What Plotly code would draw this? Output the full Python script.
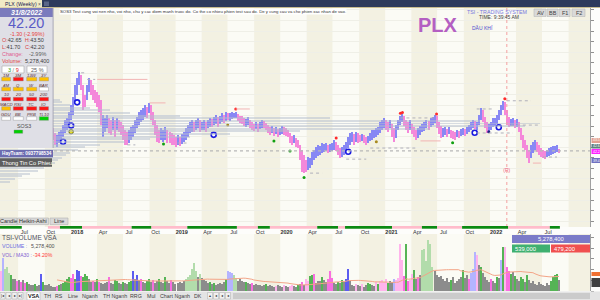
import numpy as np
import pandas as pd
import plotly.graph_objects as go

W, H = 600, 300
FONT = "Arial"


def X(p):
    return p / W


def Y(p):
    return 1 - p / H


# ---------------- data ----------------
price_start = "2017-10-30"
bar_high = [
    51.3, 49.4, 48.6, 49.8, 50.5, 52.4, 54.3, 55.1, 57.4, 60.0,
    63.0, 67.6, 70.2, 72.5, 71.4, 67.6, 63.8, 67.6, 70.2, 69.5,
    67.6, 65.7, 64.9, 63.8, 61.9, 56.2, 55.1, 56.2, 55.1, 54.3,
    55.5, 54.3, 55.1, 54.3, 53.6, 52.4, 50.5, 49.8, 50.5, 51.7,
    52.4, 54.3, 55.5, 57.4, 58.1, 58.9, 60.0, 59.2, 60.8, 60.0,
    57.4, 54.3, 52.4, 50.5, 51.3, 50.5, 51.7, 50.5, 49.8, 49.4,
    48.6, 47.9, 48.6, 47.9, 49.0, 49.8, 51.3, 52.4, 53.6, 54.3,
    53.6, 54.3, 55.1, 54.3, 53.6, 54.3, 53.6, 54.3, 55.1, 54.7,
    55.5, 56.2, 55.5, 55.9, 57.0, 56.2, 57.4, 57.0, 57.0, 57.4,
    57.0, 57.4, 56.6, 55.9, 55.9, 55.1, 54.7, 55.5, 54.3, 53.6,
    52.8, 53.6, 52.8, 53.6, 54.3, 54.0, 53.2, 52.4, 51.7, 52.0,
    51.3, 51.7, 50.9, 51.3, 52.0, 51.7, 51.3, 50.5, 49.4, 48.3,
    48.6, 47.5, 46.7, 44.9, 43.0, 41.1, 39.2, 40.3, 39.9, 42.2,
    43.0, 44.1, 44.9, 44.5, 45.6, 45.2, 45.6, 44.9, 45.2, 45.6,
    46.7, 46.0, 44.9, 43.7, 44.1, 44.9, 46.0, 47.9, 49.4, 49.8,
    49.0, 49.8, 49.4, 48.6, 49.0, 48.6, 47.9, 48.3, 49.4, 50.5,
    50.5, 51.3, 51.7, 53.6, 54.3, 55.1, 54.3, 53.6, 54.3, 52.8,
    51.3, 52.4, 54.3, 55.9, 56.6, 55.9, 54.3, 53.6, 54.3, 52.8,
    51.7, 50.5, 51.3, 52.0, 52.8, 53.6, 54.3, 54.0, 55.1, 55.5,
    56.2, 55.9, 53.6, 52.0, 51.3, 51.7, 50.9, 51.7, 50.5, 50.2,
    49.8, 50.5, 50.2, 50.9, 51.3, 50.9, 51.7, 52.4, 53.6, 54.3,
    54.0, 53.6, 56.2, 58.9, 58.1, 55.5, 53.6, 52.8, 53.6, 55.1,
    55.1, 56.2, 58.1, 60.0, 61.5, 61.1, 58.1, 55.5, 54.7, 55.1,
    54.3, 54.7, 53.6, 51.3, 48.6, 46.7, 44.9, 43.0, 44.9, 46.0,
    46.7, 46.0, 44.9, 43.7, 43.0, 42.6, 43.0, 43.7, 44.1, 44.5,
    44.5, 44.9, 43.5,
]
bar_low = [
    46.7, 44.9, 44.1, 45.6, 46.0, 47.9, 49.4, 50.5, 51.7, 54.3,
    56.2, 60.8, 63.8, 67.6, 65.7, 58.1, 59.2, 61.9, 64.9, 63.8,
    61.9, 60.8, 59.2, 57.4, 52.4, 47.9, 49.8, 51.3, 49.4, 48.6,
    50.5, 47.9, 50.5, 49.8, 48.6, 46.7, 44.9, 44.9, 45.6, 46.7,
    47.9, 49.4, 51.3, 52.4, 53.6, 54.3, 55.5, 55.1, 57.0, 54.3,
    52.4, 48.6, 46.0, 45.6, 46.7, 46.0, 46.7, 45.6, 45.6, 44.9,
    44.9, 44.1, 44.9, 44.5, 45.2, 46.0, 46.7, 47.9, 49.4, 49.8,
    49.8, 50.5, 51.3, 49.8, 50.5, 50.5, 49.8, 51.3, 51.7, 51.7,
    52.4, 52.8, 51.7, 52.8, 53.6, 53.2, 53.9, 54.3, 53.9, 54.7,
    55.1, 55.1, 53.9, 53.2, 52.8, 52.0, 51.7, 52.4, 51.3, 50.5,
    50.2, 50.9, 49.8, 50.9, 51.3, 51.3, 50.5, 49.4, 48.6, 49.4,
    48.3, 49.0, 47.9, 48.6, 49.0, 48.6, 48.3, 47.9, 45.6, 44.9,
    45.6, 44.1, 43.7, 39.2, 34.6, 34.2, 34.6, 35.4, 36.1, 37.3,
    39.2, 39.9, 40.7, 41.1, 41.8, 42.2, 42.6, 41.8, 42.2, 42.6,
    42.9, 42.6, 41.1, 39.9, 40.3, 41.1, 42.2, 43.7, 44.9, 46.0,
    44.9, 46.0, 45.6, 46.0, 46.3, 45.6, 44.9, 45.6, 46.3, 46.7,
    47.5, 47.9, 48.6, 49.4, 50.5, 51.3, 50.5, 49.8, 51.3, 47.9,
    46.0, 47.5, 50.5, 52.4, 53.6, 52.0, 50.5, 49.4, 50.5, 49.0,
    47.9, 46.7, 47.5, 48.6, 49.8, 50.2, 51.3, 50.5, 51.7, 52.4,
    53.2, 51.3, 49.0, 47.5, 47.9, 48.6, 47.9, 49.0, 47.5, 47.1,
    46.7, 47.9, 47.5, 48.3, 48.6, 48.3, 49.0, 49.8, 50.5, 51.3,
    50.9, 50.5, 52.4, 54.3, 53.6, 51.3, 49.4, 49.8, 50.5, 51.7,
    52.0, 52.8, 54.3, 56.2, 58.1, 56.2, 52.4, 51.7, 52.0, 52.0,
    51.3, 51.7, 49.8, 46.7, 43.7, 43.0, 39.9, 38.0, 39.9, 41.8,
    43.0, 42.2, 41.1, 40.3, 40.0, 39.5, 40.3, 40.7, 41.1, 41.4,
    41.8, 42.2, 41.7,
]
bar_dir = "".join([
    "dduuu", "uuuuu", "uuuud", "dduud", "ddddd", "uuudd", "ududd", "ddduu",
    "uuuuu", "uudud", "ddddu", "uuddd", "ddudu", "uuuuu", "duudu", "uduud",
    "uuduu", "duduu", "uuddd", "duudd", "duduu", "ddddu", "duduu", "ddddd",
    "udddd", "dduuu", "uuuuu", "uuduu", "udddu", "uuuuu", "duddu", "dduuu",
    "uuuuu", "uddud", "duuuu", "dddud", "dduuu", "uuduu", "udddu", "ududd",
    "duduu", "duuuu", "duuud", "dduuu", "uuuuu", "ddduu", "duddd", "ddduu",
    "udddd", "duuuu", "uud",
])
last_open = 42.65
last_close = 42.20

vol_start = "2017-04-24"
volume_m = [
    8.4, 9.3, 15.4, 10.3, 11.2, 8.4, 7.5, 5.6, 5.6, 4.7,
    5.1, 4.2, 5.1, 3.7, 4.2, 3.3, 2.8, 2.8, 3.3, 2.3,
    2.8, 7.9, 4.2, 2.8, 2.8, 3.3, 2.3, 1.9, 1.9, 2.3,
    2.8, 3.3, 3.7, 4.7, 5.6, 6.5, 6.1, 7.9, 5.6, 9.8,
    9.3, 7.0, 6.5, 7.9, 7.0, 5.6, 4.2, 4.7, 4.2, 5.6,
    4.2, 3.7, 3.3, 3.7, 4.2, 6.5, 3.7, 3.3, 5.1, 4.7,
    3.7, 3.3, 4.2, 3.7, 3.3, 4.2, 4.7, 9.3, 5.6, 7.5,
    5.1, 5.6, 4.2, 3.7, 4.7, 5.6, 4.2, 5.1, 3.7, 4.7,
    5.6, 4.2, 3.7, 6.5, 4.7, 3.7, 5.1, 4.2, 3.3, 3.7,
    4.2, 3.7, 4.7, 5.6, 6.5, 7.5, 10.3, 13.1, 9.3, 6.5,
    7.9, 6.1, 5.1, 4.7, 3.7, 4.2, 3.3, 3.7, 2.8, 3.3,
    3.7, 3.3, 4.2, 5.6, 9.3, 8.9, 8.4, 7.5, 6.1, 4.7,
    5.6, 4.7, 4.2, 4.2, 3.7, 3.3, 3.7, 2.8, 3.3, 2.8,
    2.8, 2.3, 2.8, 3.3, 2.3, 2.8, 2.3, 1.9, 2.3, 2.8,
    2.3, 1.9, 2.8, 2.3, 1.9, 2.3, 2.8, 2.3, 1.9, 2.8,
    3.3, 4.2, 2.8, 5.6, 4.7, 7.0, 7.5, 7.9, 3.7, 4.7,
    4.7, 6.5, 5.1, 4.2, 5.6, 9.3, 6.1, 3.7, 3.3, 4.2,
    3.7, 5.1, 4.2, 5.6, 10.3, 4.7, 2.8, 2.3, 3.3, 2.8,
    2.3, 3.3, 1.9, 2.8, 3.7, 3.3, 2.8, 2.3, 4.2, 3.3,
    4.7, 5.1, 4.2, 5.6, 3.7, 4.7, 4.2, 5.6, 5.1, 6.1,
    21.9, 14.5, 7.0, 21.9, 4.7, 5.1, 7.9, 9.8, 5.6, 6.5,
    7.5, 19.1, 19.6, 14.0, 23.8, 21.9, 11.2, 9.3, 7.5, 6.5,
    7.0, 5.6, 4.7, 6.1, 4.2, 5.1, 6.5, 3.7, 4.7, 5.6,
    6.5, 9.8, 6.1, 7.5, 5.6, 8.4, 10.3, 18.2, 16.8, 12.1,
    11.2, 8.4, 6.5, 5.1, 4.2, 5.6, 4.7, 3.7, 6.5, 6.1,
    14.5, 20.5, 20.5, 11.2, 9.3, 7.9, 8.9, 7.0, 5.6, 4.7,
    6.5, 5.6, 4.2, 7.5, 5.1, 3.7, 4.7, 3.3, 2.8, 4.2,
    3.3, 2.8, 2.3, 3.7, 2.8, 4.7, 6.5, 7.5, 7.9, 5.2784,
]
vol_kind = "".join([
    "pqvlllgkkp", "kpkpgkkkgk", "kbgkkkkkkp", "gkggggppgb", "bpgggkkpkg",
    "pkkkkpkkgg", "kkgkkggbkb", "kpkkggkpkk", "gkkgkkpkkk", "kkkllllllk",
    "lkkkkgkgkk", "kkkgvvvllk", "kkkgkkpkkk", "kkkgkkkkqk", "kkqkkqqkkg",
    "kpkqqggpkk", "kgkkpppkkg", "kgkbbkkkqk", "kqkkggkkqg", "qqqqgkkvqq",
    "qqpgpqqgkp", "kllllllkkk", "kkkkkgkkkk", "kgkkpvvvqk", "gkkkkpkkgk",
    "vgqppgkgkk", "ggkgkkkkkk", "kkkkkggggk",
])

# trend strip under the chart
trend_start = ["2017-04-27", "2017-10-12", "2017-11-23", "2018-02-08", "2018-07-31",
               "2018-10-08", "2019-02-10", "2019-08-02", "2019-10-14", "2019-11-25",
               "2020-05-08", "2020-07-20", "2020-08-13", "2021-01-24", "2021-05-08",
               "2021-06-30", "2021-09-25", "2022-03-05", "2022-07-28"]
trend_end = ["2017-07-13", "2017-11-23", "2018-02-08", "2018-07-31", "2018-10-08",
             "2019-02-10", "2019-08-02", "2019-10-14", "2019-11-25", "2020-05-08",
             "2020-07-20", "2020-08-13", "2021-01-24", "2021-05-08", "2021-06-30",
             "2021-09-25", "2022-03-05", "2022-07-28", "2022-09-01"]
trend_state = "gpgpgpgpgpgpgpgpgpg"

# volume profile (price level -> relative traded volume)
profile_price = [62, 61, 60, 59, 58, 57, 56, 55, 54, 53, 52, 51, 50, 49, 48, 47,
                 46, 45, 44, 43, 42, 41, 40, 39, 38, 37, 36, 35, 34, 33, 32, 31]
profile_vol = [60, 62, 70, 90, 110, 130, 180, 330, 480, 540, 525, 430, 300, 230, 190, 150,
               125, 100, 85, 78, 70, 66, 62, 58, 55, 50, 44, 38, 30, 22, 15, 10]

# signals (week index into price bars, price)
circle_idx = [5, 9, 12, 80, 147, 210, 222]
circle_px = [46.1, 52.2, 61.0, 48.7, 42.3, 49.5, 51.6]
yellow_idx = [9]
yellow_px = [49.9]
red_idx = [91, 141, 173, 174, 191, 225]
red_px = [58.5, 47.5, 56.9, 57.2, 56.6, 62.4]
green_idx = [55, 110, 118, 125, 199]
green_px = [45.2, 46.4, 42.6, 32.5, 45.7]
brown_idx = [87, 161]
brown_px = [52.4, 46.1]
navy_idx = [217]
navy_px = [49.9]
rev_idx = 226
rev_px = 35.1

# support / resistance marks (start week, end week, price, kind)
lvl_start = [14, 17, 22, 48, 37, 62, 91, 113, 128, 146, 158, 173, 183, 211, 211, 226, 228, 239, 244]
lvl_end = [17, 21, 47, 56, 41, 67, 98, 116, 134, 156, 181, 191, 193, 229, 219, 238, 242, 243, 251]
lvl_price = [72.2, 69.7, 69.7, 60.8, 44.9, 45.6, 58.5, 50.2, 34.2, 39.5, 43.7, 55.1, 46.4,
             49.4, 58.5, 61.6, 52.4, 38.0, 40.3]
lvl_kind = "gg" + "pp" + "gg" + "p" + "ggggg" + "p" + "gggg" + "p" + "ggg"

# ---------------- geometry ----------------
X_RANGE = ["2017-04-28", "2022-12-15"]
PLOT_R = 590
P_TOP, P_BOT = 8, 227
PRICE_REF, PRICE_REF_Y, PX_PER_UNIT = 42.2, 152, 2.64
y_hi = PRICE_REF + (PRICE_REF_Y - P_TOP) / PX_PER_UNIT
y_lo = PRICE_REF - (P_BOT - PRICE_REF_Y) / PX_PER_UNIT
V_TOP, V_BOT = 234, 291
VOL_PER_PX = 0.467

dates = pd.date_range(price_start, periods=len(bar_high), freq="7D")
vdates = pd.date_range(vol_start, periods=len(volume_m), freq="7D")

fig = go.Figure()

# volume profile
fig.add_trace(go.Bar(y=profile_price, x=profile_vol, orientation="h", width=0.74,
                     marker=dict(color="rgba(180,190,206,0.5)", line_width=0),
                     xaxis="x3", yaxis="y", hoverinfo="skip"))

# price bars
hi = np.array(bar_high)
lo = np.array(bar_low)
up_c, dn_c = "#8888f4", "#f488da"
cols = [up_c if c == "u" else dn_c for c in bar_dir]
fig.add_trace(go.Bar(x=dates, y=hi - lo, base=lo, width=3.6 * 86400000,
                     marker=dict(color=cols, line_width=0), xaxis="x", yaxis="y",
                     hoverinfo="skip"))


def sig(idx, prices, **marker):
    fig.add_trace(go.Scatter(x=[dates[i] for i in idx], y=prices, mode="markers",
                             marker=marker, xaxis="x", yaxis="y", hoverinfo="skip"))


sig(circle_idx, circle_px, size=5, color="white", line=dict(color="#1a1ae0", width=1.6))
sig(yellow_idx, yellow_px, size=4.5, color="#e8e020", line=dict(color="#404000", width=0.8))
sig(red_idx, red_px, size=3, color="#ff2a2a")
sig(green_idx, green_px, size=3, color="#10a010")
sig(brown_idx, brown_px, size=3, color="#a88a20")
sig(navy_idx, navy_px, size=3, color="#202080")
fig.add_trace(go.Scatter(x=[dates[rev_idx]], y=[rev_px], mode="text", text=["(R)"],
                         textfont=dict(size=5, color="#f06080", family=FONT),
                         xaxis="x", yaxis="y", hoverinfo="skip"))

# volume bars
vcol_map = {"g": "#55b455", "l": "#b2dcab", "p": "#f86ee0", "q": "#ffb4ec",
            "k": "#8c8c8c", "b": "#5c5cf0", "v": "#b4b4ff"}
fig.add_trace(go.Bar(x=vdates, y=volume_m, width=3.8 * 86400000,
                     marker=dict(color=[vcol_map[c] for c in vol_kind], line_width=0),
                     xaxis="x2", yaxis="y2", hoverinfo="skip"))
ma30 = pd.Series(volume_m).rolling(30).mean()
fig.add_trace(go.Scatter(x=vdates, y=ma30, mode="lines", line=dict(color="#f3a487", width=1),
                         xaxis="x2", yaxis="y2", hoverinfo="skip"))

# ---------------- shapes ----------------
def rect(x0, y0, x1, y1, fill, line=None, lw=0.6, layer="above"):
    fig.add_shape(type="rect", xref="paper", yref="paper", x0=X(x0), x1=X(x1),
                  y0=Y(y1), y1=Y(y0), fillcolor=fill, layer=layer,
                  line=dict(color=line if line else fill, width=lw if line else 0))


def text(x, y, s, size=6, color="#303030", anchor="left", bold=False, bg=None):
    if bold:
        s = "<b>" + s + "</b>"
    fig.add_annotation(xref="paper", yref="paper", x=X(x), y=Y(y), text=s, showarrow=False,
                       xanchor=anchor, yanchor="middle", borderpad=0, bgcolor=bg,
                       font=dict(size=size, color=color, family=FONT))


# quarter bands (price + volume panes)
quarters = pd.date_range("2017-04-01", "2023-01-01", freq="QS")
for q0, q1 in zip(quarters[:-1], quarters[1:]):
    c = "#f3f1e2" if q0.month in (4, 10) else "#fbfbf5"
    for ya, yb in ((P_TOP, P_BOT), (V_TOP, V_BOT)):
        fig.add_shape(type="rect", xref="x", yref="paper", x0=q0, x1=q1, y0=Y(yb), y1=Y(ya),
                      fillcolor=c, line_width=0, layer="below")

# open-price dotted line
fig.add_shape(type="line", xref="paper", yref="y", x0=0, x1=X(PLOT_R), y0=last_open, y1=last_open,
              line=dict(color="#b8b8b8", width=1.2, dash="dot"))
# level marks
for s, e, p, k in zip(lvl_start, lvl_end, lvl_price, lvl_kind):
    fig.add_shape(type="line", xref="x", yref="y", x0=dates[s], x1=dates[e], y0=p, y1=p,
                  line=dict(color="#f2b4b4" if k == "p" else "#b0b0ba", width=1,
                            dash="solid" if k == "p" else "dot"))
# vertical marker line
fig.add_shape(type="line", xref="x", yref="paper", x0=dates[rev_idx], x1=dates[rev_idx],
              y0=Y(P_BOT), y1=Y(P_TOP), line=dict(color="#f4a0a0", width=1, dash="dot"))

# trend strip
for s, e, st in zip(trend_start, trend_end, trend_state):
    fig.add_shape(type="rect", xref="x", yref="paper", x0=s, x1=e, y0=Y(228.7), y1=Y(226),
                  fillcolor="#0b8a12" if st == "g" else "#ffbccb", line_width=0)

# ---------- chrome: header ----------
rect(0, 0, 600, 7.2, "#2d3a5c")
rect(0, 7.2, 600, 8, "#c9b77a")
rect(0, 0, 42, 7.6, "#f1ebc6")
text(3.5, 3.9, "PLX (Weekly)", 5.2, "#1a1a50")
text(39.5, 3.9, "×", 5, "#606060", "center")
rect(44, 1.5, 49, 6, "#5a6688")
text(59, 11.2, "SOS3 Test cung voi nen nho, voi nho, chu y cac diem manh truoc do. Co the co nhieu "
     "phien test sau do. De y cung cau va cho phien xac nhan de vao.", 4.3, "#303030", bg="white")

# top-right labels
text(438, 25, "PLX", 20, "#b45fc2", "center", bold=True)
text(497, 12, "TSI - TRADING SYSTEM", 5.3, "#7878e0", "center")
text(499, 16.5, "TIME: 9:39:45 AM", 5, "#404040", "center")
text(482, 28.5, "DẦU KHÍ", 5, "#5050d0", "center")
for bx0, bx1, lab in ((534, 546, "AV"), (547, 558, "BB"), (559, 570, "F1"), (572, 585, "F2")):
    rect(bx0, 9, bx1, 16.5, "#d9d9d9", "#b8b8b8")
    text((bx0 + bx1) / 2, 12.8, lab, 5.5, "#404040", "center")

# right-axis price flags
for yy0, yy1, col, lab in ((138, 143, "#e2a090", "43.5"), (144, 148.5, "#5f8080", "42.6"),
                           (149, 154, "#ff22ff", "42.2"), (158, 163, "#7070c0", "39.4")):
    rect(591.5, yy0, 600, yy1, col)
    text(591.8, (yy0 + yy1) / 2, lab, 3.5, "white")

# ---------- left info panel ----------
rect(0, 8, 53, 17, "#7b7bbd")
text(26.5, 12.6, "<i>31/8/2022</i>", 7, "white", "center", bold=True)
rect(0, 17, 53, 148, "#dfdfe6")
rect(52.6, 8, 53.6, 148, "#a8a8b8")
text(26, 22.8, "42.20", 14.5, "#5b5bc6", "center")
text(27, 33.6, "-1.30 (-2.99%)", 5.4, "#e84040", "center")
red = "<span style='color:#d84848'>%s</span>"
text(0.5, 40, red % "O:" + "42.65\u00a0\u00a0" + red % "H:" + "43.50", 5.5, "#404040")
text(0.5, 46.8, red % "L:" + "41.70\u00a0\u00a0\u00a0" + red % "C:" + "42.20", 5.5, "#404040")
text(0.5, 53.6, "<span style='color:#e06090'>Change:</span>\u00a0\u00a0\u00a0\u00a0-2.99%", 5.5, "#606060")
text(0.5, 61, "<span style='color:#e04848'>Volume:</span>\u00a0\u00a05,278,400", 5.5, "#404040")
rect(2, 66, 24, 73, "white", "#a8a8a8")
text(13, 69.6, "<span style='color:#20a020'>3</span> / <span style='color:#e02020'>9</span>", 5.5, "#808080", "center")
rect(27, 66, 47, 73, "white", "#a8a8a8")
text(37, 69.6, "25 %", 5.5, "#606060", "center")

cols_x = [(1.7, 10.5), (13.3, 23.3), (26.7, 36.7), (39.3, 48.5)]
rows = [
    (75, 77.3, 80.9, ["1M", "3M", "13W", "3Y"], "YRYY"),
    (85, 87.3, 90.9, ["4M", "Q", "W", "BAR"], "YYYW"),
    (94.3, 97.3, 100.9, ["10", "20", "50", "200"], "RRRR"),
    (104.1, 106.7, 110.3, ["MACD", "RSI", "TC", "IO"], "YRRR"),
    (114, 116.7, 120.3, ["GDU", "BB", "PRB", "TL10"], "WWWG"),
]
box_col = {"Y": "#ffc000", "R": "#ff1414", "W": "#ffffff", "G": "#00d000"}
for ly, by0, by1, labs, cc in rows:
    for (cx0, cx1), lab, c in zip(cols_x, labs, cc):
        text((cx0 + cx1) / 2, ly, "<i>" + lab + "</i>", 4.3, "#5a3030", "center")
        rect(cx0, by0, cx1, by1, box_col[c], "#8a8a8a", 0.4)
text(24, 126, "SOS3", 5.3, "#505050", "center")
rect(14, 130, 22.7, 133.3, "#00d000", "#8a8a8a", 0.4)

rect(0, 150, 53, 157.2, "#6c6cb0")
text(0.8, 153.6, "HayTsam: 0937798534", 4.7, "white", bold=True)
rect(0, 158.3, 52, 166.7, "#5e5e5e")
text(1, 162.5, "Thong Tin Co Phieu", 5.7, "white")

# chart-type buttons
for bx0, bx1, lab in ((-1, 17, "Candle"), (17.5, 48.5, "Heikin-Ashi"), (50, 68, "Line")):
    rect(bx0, 218, bx1, 224.6, "#d9d9d9", "#b4b4b4")
    text((bx0 + bx1) / 2, 221.4, lab, 5.5, "#303030", "center")

# ---------- volume panel texts ----------
text(1, 237.6, "TSI-VOLUME VSA", 6.5, "#505060")
text(1, 245.6, "VOLUME :", 5.3, "#6a6ae0")
text(30, 245.6, "5,278,400", 5.3, "#505050")
text(1, 254.6, "VOL / MA30 :", 5, "#8060d0")
text(32, 254.6, "-34.20%", 5.2, "#ff3a3a")
rect(512, 235, 590, 243, "#7b7bc8")
text(551, 239, "5,278,400", 5.8, "white", "center")
rect(512, 244.6, 550, 252.6, "#3fb070")
text(514, 248.6, "539,000", 5.8, "white")
rect(551, 244.6, 590, 252.6, "#f05050")
text(553, 248.6, "479,200", 5.8, "white")
rect(591.5, 272, 600, 276, "#f07030")
rect(591.5, 278, 600, 287, "#404040")

# ---------- bottom tabs ----------
rect(0, 291.5, 600, 300, "#e4e4e4")
for i, g in enumerate(["|◂", "◂", "▸", "▸|"]):
    rect(i * 6, 292.5, i * 6 + 5, 299, "#f0f0f0", "#a0a0a0", 0.4)
    text(i * 6 + 2.5, 295.8, g, 4, "#303030", "center")
rect(27, 292, 40, 300, "white", "#a0a0a0", 0.4)
text(33.5, 296, "VSA", 5.5, "#202020", "center", bold=True)
for cx, lab in ((47.5, "TH"), (59, "RS"), (72.5, "Line"), (90, "Nganh"), (114.5, "TH Nganh"),
                (136, "RRG"), (151, "Mul"), (175, "Chart Nganh"), (198, "DK")):
    text(cx, 296, lab, 5.3, "#404040", "center")
for cx, g in ((210, "▴"), (216, "◂"), (222, "◂"), (228, "◂")):
    rect(cx - 2.5, 292.5, cx + 2.5, 299, "#f0f0f0", "#a0a0a0", 0.4)
    text(cx, 295.8, g, 4, "#303030", "center")
rect(233, 293, 590, 299, "#cbcbcb")

# ---------------- axes ----------------
ticks = pd.date_range("2017-07-01", "2022-07-01", freq="QS")
tick_text = ["<b>%d</b>" % d.year if d.month == 1 else d.strftime("%b") for d in ticks]

fig.update_layout(
    width=W, height=H, margin=dict(l=0, r=0, t=0, b=0), autosize=False,
    paper_bgcolor="#fdfdfb", plot_bgcolor="rgba(0,0,0,0)",
    showlegend=False, hovermode=False, barmode="overlay", bargap=0,
    font=dict(family=FONT),
    xaxis=dict(domain=[0, X(PLOT_R)], range=X_RANGE, type="date", anchor="y",
               tickvals=ticks, ticktext=tick_text, ticks="", ticklabelshift=6,
               tickfont=dict(size=5.5, color="#303030", family=FONT),
               showgrid=False, zeroline=False, showline=False, fixedrange=True),
    yaxis=dict(domain=[Y(P_BOT), Y(P_TOP)], range=[y_lo, y_hi], side="right", anchor="x",
               showline=True, linecolor="#a0a0a0", linewidth=1, ticks="outside", ticklen=3,
               tickcolor="#909090", dtick=4, tick0=0, showticklabels=False,
               showgrid=True, gridcolor="#efefe7", zeroline=False, fixedrange=True),
    xaxis2=dict(domain=[0, X(PLOT_R)], matches="x", anchor="y2", type="date",
                showticklabels=False, showgrid=False, zeroline=False, ticks=""),
    yaxis2=dict(domain=[Y(V_BOT), Y(V_TOP)], range=[0, (V_BOT - V_TOP) * VOL_PER_PX],
                side="right", anchor="x2", showline=True, linecolor="#a0a0a0", linewidth=1,
                ticks="outside", ticklen=3, tickcolor="#909090", dtick=5,
                showticklabels=False, showgrid=False, zeroline=False),
    xaxis3=dict(overlaying="x", range=[0, PLOT_R], visible=False, anchor="y"),
)

fig.write_html("out.html")
